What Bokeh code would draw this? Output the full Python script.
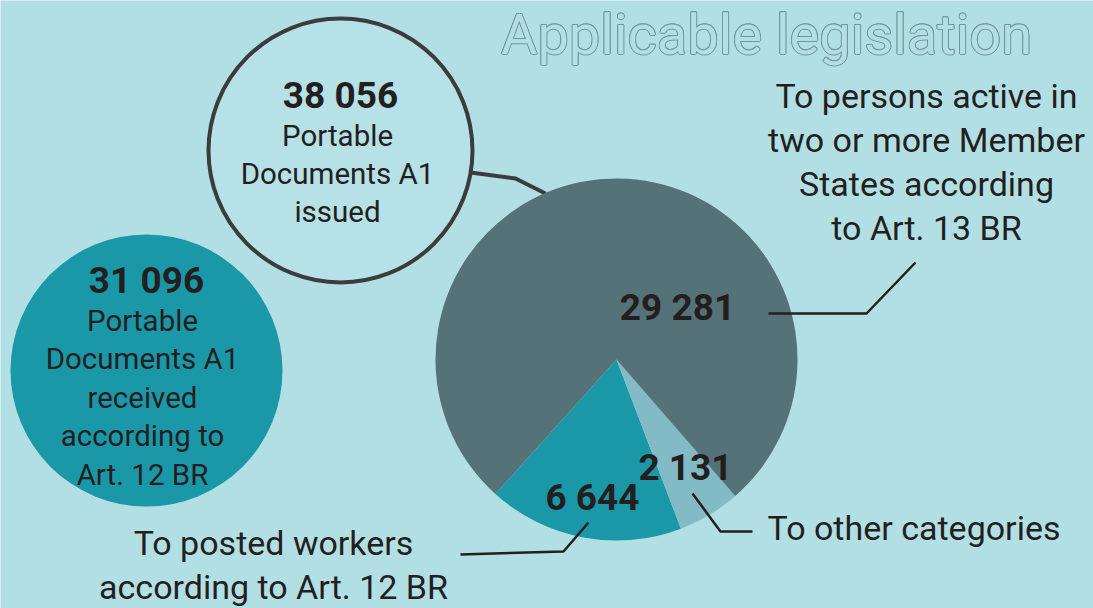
import math
from bokeh.plotting import figure
from bokeh.models import Range1d
from bokeh.core.properties import value
from bokeh.embed import file_html
from bokeh.resources import INLINE

# ---- data ----
title = "Applicable legislation"
issued_total = 38056
issued_label = ["Portable", "Documents A1", "issued"]
received_total = 31096
received_label = ["Portable", "Documents A1", "received", "according to", "Art. 12 BR"]
slice_names = ["To posted workers according to Art. 12 BR", "To other categories",
               "To persons active in two or more Member States according to Art. 13 BR"]
slice_values = [6644, 2131, 29281]
slice_colors = ["#1b98a8", "#82bac5", "#557278"]
art13_label = ["To persons active in", "two or more Member", "States according", "to Art. 13 BR"]
posted_label = ["To posted workers", "according to Art. 12 BR"]
other_label = ["To other categories"]

def fmt(n):
    return f"{n:,}".replace(",", " ")

W, H = 1093, 608
BG = "#b2dfe4"
INK = "#231f20"
FONT = "Roboto"
BODY = "34px"
CIRC = "29.5px"
NUM = "37px"

def Y(ypx):
    return H - ypx

p = figure(width=W, height=H, output_backend="svg", toolbar_location=None,
           x_range=Range1d(0, W), y_range=Range1d(0, H), min_border=0)
p.axis.visible = False
p.grid.visible = False
p.outline_line_color = None
p.background_fill_color = BG
p.border_fill_color = BG

# ---- title (outlined text) ----
tx, ty = 766, Y(34)
for dx, dy in [(-1, 0), (1, 0), (0, -1), (0, 1), (-0.7, -0.7), (0.7, 0.7), (-0.7, 0.7), (0.7, -0.7)]:
    p.text(x=[tx + dx], y=[ty + dy], text=[title], text_font=value(FONT),
           text_font_size="56px", text_color="#729599", text_align="center",
           text_baseline="middle")
p.text(x=[tx], y=[ty], text=[title], text_font=value(FONT), text_font_size="56px",
       text_color=BG, text_align="center", text_baseline="middle")

# ---- received circle ----
p.circle(x=[146], y=[Y(370)], radius=136, fill_color="#1b98a8", line_color=None)
p.text(x=[146], y=[Y(280)], text=[fmt(received_total)], text_font=value(FONT),
       text_font_style="bold", text_font_size=NUM, text_color=INK,
       text_align="center", text_baseline="middle")
for i, t in enumerate(received_label):
    p.text(x=[142], y=[Y(320 + 38.5 * i)], text=[t], text_font=value(FONT),
           text_font_size=CIRC, text_color=INK, text_align="center", text_baseline="middle")

# ---- connector from issued circle to pie ----
p.line(x=[470, 515, 545], y=[Y(172), Y(178), Y(193)], line_color="#3c3c3c", line_width=4)

# ---- issued circle ----
p.circle(x=[340], y=[Y(150)], radius=132, fill_color="#b6e1e6", line_color="#3c3c3c",
         line_width=4)
p.text(x=[340], y=[Y(95)], text=[fmt(issued_total)], text_font=value(FONT),
       text_font_style="bold", text_font_size=NUM, text_color=INK,
       text_align="center", text_baseline="middle")
for i, t in enumerate(issued_label):
    p.text(x=[337], y=[Y(135 + 38 * i)], text=[t], text_font=value(FONT),
           text_font_size=CIRC, text_color=INK, text_align="center", text_baseline="middle")

# ---- pie ----
total = sum(slice_values)
start0 = math.radians(-49) - (slice_values[0] + slice_values[1]) / total * 2 * math.pi
starts, ends = [], []
a = start0
for v in slice_values:
    starts.append(a)
    a += v / total * 2 * math.pi
    ends.append(a)
p.wedge(x=[616] * 3, y=[Y(359)] * 3, radius=181, start_angle=starts, end_angle=ends,
        fill_color=slice_colors, line_color=None)

# ---- slice value labels ----
for (xx, yy), v in zip([(592, 497), (685, 467), (677, 307)], slice_values):
    p.text(x=[xx], y=[Y(yy)], text=[fmt(v)], text_font=value(FONT), text_font_style="bold",
           text_font_size=NUM, text_color=INK, text_align="center", text_baseline="middle")

# ---- leader lines ----
p.line(x=[915, 866, 768], y=[Y(262), Y(313), Y(313)], line_color=INK, line_width=2.5)
p.line(x=[692, 720, 752], y=[Y(493), Y(531), Y(531)], line_color=INK, line_width=2.5)
p.line(x=[460, 563, 588], y=[Y(554), Y(551), Y(522)], line_color=INK, line_width=2.5)

# ---- category labels ----
for i, t in enumerate(art13_label):
    p.text(x=[926], y=[Y(95 + 44.3 * i)], text=[t], text_font=value(FONT),
           text_font_size=BODY, text_color=INK, text_align="center", text_baseline="middle")
for i, t in enumerate(posted_label):
    p.text(x=[273], y=[Y(542 + 44 * i)], text=[t], text_font=value(FONT),
           text_font_size=BODY, text_color=INK, text_align="center", text_baseline="middle")
p.text(x=[767], y=[Y(527)], text=other_label, text_font=value(FONT),
       text_font_size=BODY, text_color=INK, text_align="left", text_baseline="middle")

open("out.html", "w").write(file_html(p, INLINE))
